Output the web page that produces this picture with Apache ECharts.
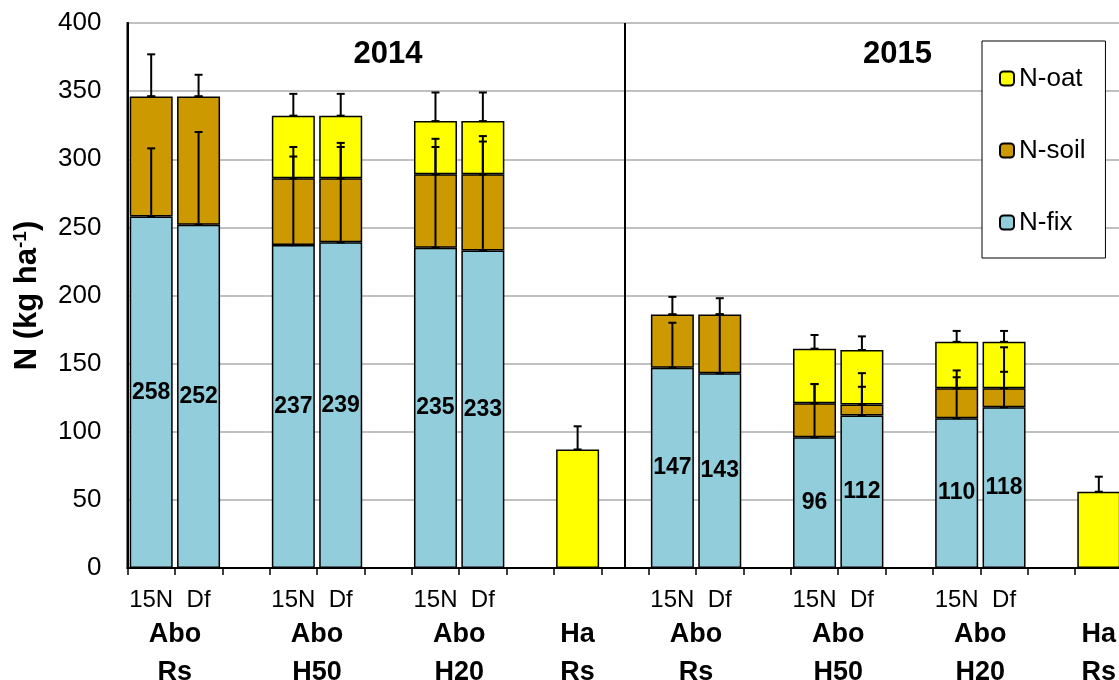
<!DOCTYPE html>
<html>
<head>
<meta charset="utf-8">
<script src="https://cdn.jsdelivr.net/npm/echarts@6/dist/echarts.min.js"></script>
<style>
html,body{margin:0;padding:0;background:#fff;}
#chart{width:1119px;height:680px;}
</style>
</head>
<body>
<div id="chart"></div>
<script>
// bar slots, '' = gap or Ha (no sub label)
var slots = ['15N','Df','','15N','Df','','15N','Df','','','','15N','Df','','15N','Df','','15N','Df','',''];
var groupPos = [0.5, 3.5, 6.5, 9, 11.5, 14.5, 17.5, 20];
var groupNames = ['Abo\nRs','Abo\nH50','Abo\nH20','Ha\nRs','Abo\nRs','Abo\nH50','Abo\nH20','Ha\nRs'];
var years = ['2014','2015'];
var yearPos = [5, 15.75];
var yearY = 377;
var dividerSlot = 10;
var yTicks = [0, 400, 50];

var nFix  = [258,252,null,237,239,null,235,233,null,null,null,147,143,null,96,112,null,110,118,null,null];
var nSoil = [88,94,null,49,47,null,54,56,null,null,null,39,43,null,25,8,null,22,14,null,null];
var nOat  = [null,null,null,46,46,null,39,39,null,87,null,null,null,null,40,40,null,34,34,null,56];

var fixErr  = [50,68,null,72,70,null,80,84,null,null,null,33,43,null,39,31,null,35,44,null,null];
var soilErr = [31,16,null,16,26,null,20,24,null,null,null,13,12,null,14,13,null,8,12,null,null];
var oatErr  = [0,0,null,16,16,null,21,21,null,17,null,0,0,null,10,10,null,8,8,null,11];

var font = "'Liberation Sans',Arial,sans-serif";

var chart = echarts.init(document.getElementById('chart'));

function errItems(){
    var out = [];
    for (var i = 0; i < slots.length; i++) {
        var f = nFix[i] || 0, s = nSoil[i] || 0, o = nOat[i] || 0;
        if (fixErr[i] != null) out.push([i, f, f + fixErr[i]]);
        if (soilErr[i] != null) out.push([i, f + s, f + s + soilErr[i]]);
        if (oatErr[i] != null) out.push([i, f + s + o, f + s + o + oatErr[i]]);
    }
    return out;
}

function renderErr(params, api){
    var x = api.value(0);
    var p0 = api.coord([x, api.value(1)]);
    var p1 = api.coord([x, api.value(2)]);
    var w = 4;
    var st = {stroke:'#000', lineWidth:2};
    return {type:'group', children:[
        {type:'line', shape:{x1:p0[0], y1:p0[1], x2:p1[0], y2:p1[1]}, style:st},
        {type:'line', shape:{x1:p1[0]-w, y1:p1[1], x2:p1[0]+w, y2:p1[1]}, style:st},
        {type:'line', shape:{x1:p0[0]-w, y1:p0[1], x2:p0[0]+w, y2:p0[1]}, style:st}
    ]};
}

function renderYear(params, api){
    var p = api.coord([api.value(0), api.value(1)]);
    return {type:'text', x:p[0], y:p[1], style:{
        text:years[params.dataIndex], fill:'#000', fontSize:31, fontWeight:'bold', fontFamily:font,
        align:'center', verticalAlign:'middle'
    }};
}

var barStyle = function(c){
    return {color:c, borderColor:'#000', borderWidth:1.5};
};

chart.setOption({
    animation:false,
    grid:{left:127.5, top:23, width:995, height:545, show:true, borderColor:'#000', borderWidth:2,
        containLabel:false, outerBoundsMode:'none'},
    legend:{
        data:['N-oat','N-soil','N-fix'],
        orient:'vertical',
        left:982, top:41,
        backgroundColor:'#fff', borderColor:'#000', borderWidth:1,
        padding:[24,20,22,17],
        itemWidth:14, itemHeight:14, itemGap:45, itemTextGap:8,
        textStyle:{fontSize:26, fontFamily:font, color:'#000', lineHeight:27}
    },
    xAxis:[{
        type:'category',
        data:slots,
        axisLine:{onZero:false, lineStyle:{color:'#000', width:2}},
        axisTick:{show:true, length:7, lineStyle:{color:'#000', width:1.5}},
        axisLabel:{interval:0, fontSize:24, fontFamily:font, color:'#000', margin:20},
        splitLine:{show:false}
    },{
        type:'value',
        position:'bottom',
        min:-0.5, max:20.5, interval:0.5,
        axisLine:{show:false, onZero:false}, axisTick:{show:false}, splitLine:{show:false},
        axisLabel:{
            margin:48, color:'#000', fontSize:27, fontWeight:'bold', fontFamily:font, lineHeight:38,
            showMinLabel:true, showMaxLabel:true,
            formatter:function(v){
                for (var k = 0; k < groupPos.length; k++) {
                    if (Math.abs(v - groupPos[k]) < 1e-6) return groupNames[k];
                }
                return '';
            }
        }
    }],
    yAxis:{
        type:'value',
        min:yTicks[0], max:yTicks[1], interval:yTicks[2],
        name:'{b|N (kg ha}{s|-1}{b|)}',
        nameLocation:'middle', nameRotate:90, nameGap:82,
        nameTextStyle:{
            rich:{
                b:{fontSize:31, fontWeight:'bold', fontFamily:font, color:'#000', lineHeight:36},
                s:{fontSize:19, fontWeight:'bold', fontFamily:font, color:'#000', lineHeight:36, padding:[0,0,13,0]}
            }
        },
        axisLine:{show:true, onZero:false, lineStyle:{color:'#000', width:2}},
        axisTick:{show:false},
        axisLabel:{fontSize:26, fontFamily:font, color:'#000', margin:26},
        splitLine:{lineStyle:{color:'#c0c0c0', width:2}}
    },
    series:[{
        name:'N-fix', type:'bar', stack:'n', data:nFix, barWidth:43,
        itemStyle:barStyle('#92CDDC'),
        label:{show:true, position:'inside', color:'#000', fontSize:23, fontWeight:'bold', fontFamily:font},
        markLine:{
            silent:true, symbol:'none', label:{show:false},
            lineStyle:{color:'#000', width:2, type:'solid'},
            data:[{xAxis:dividerSlot}]
        }
    },{
        name:'N-soil', type:'bar', stack:'n', data:nSoil, barWidth:43,
        itemStyle:barStyle('#CC9900')
    },{
        name:'N-oat', type:'bar', stack:'n', data:nOat, barWidth:43,
        itemStyle:barStyle('#FFFF00')
    },{
        name:'err', type:'custom', renderItem:renderErr, data:errItems(),
        encode:{x:0, y:[1,2]}, z:5, silent:true
    },{
        name:'year', type:'custom', xAxisIndex:1, renderItem:renderYear, silent:true,
        data:yearPos.map(function(x){ return [x, yearY]; }),
        encode:{x:0, y:1}
    }]
});
</script>
</body>
</html>
